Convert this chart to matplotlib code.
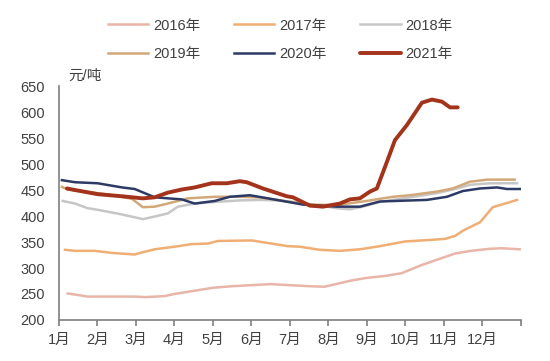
import matplotlib
matplotlib.use('Agg')
import matplotlib.pyplot as plt
import numpy as np

plt.rcParams['font.family'] = ['Liberation Sans', 'Noto Sans CJK SC', 'DejaVu Sans']
plt.rcParams['font.size'] = 10
plt.rcParams['axes.unicode_minus'] = False

# x positions in months from the start of Jan (0 = 1月, 12 = end of Dec)
x_2016 = [0.23, 0.5, 0.75, 1.0, 1.5, 2.0, 2.25, 2.5, 2.75, 3.0, 3.5, 4.0, 4.5, 5.0, 5.5, 6.0,
          6.5, 6.9, 7.25, 7.6, 8.0, 8.5, 8.9, 9.4, 9.9, 10.3, 10.7, 11.2, 11.5, 11.97]
y_2016 = [251, 248, 245, 245, 245, 245, 244, 245, 246, 250, 256, 262, 265, 267, 269, 267,
          265, 264, 270, 276, 281, 285, 290, 305, 318, 328, 333, 337, 338, 336]

x_2017 = [0.16, 0.42, 0.94, 1.38, 1.97, 2.16, 2.49, 3.01, 3.45, 3.87, 4.13, 5.01, 5.61, 5.95,
          6.26, 6.78, 7.3, 7.82, 8.34, 8.99, 9.64, 10.03, 10.3, 10.5, 10.94, 11.27, 11.64, 11.9]
y_2017 = [335, 333, 333, 329, 326, 330, 336, 341, 346, 347, 352, 353, 346, 342,
          341, 335, 333, 336, 342, 351, 354, 356, 362, 372, 388, 417, 425, 431]

x_2018 = [0.1, 0.42, 0.75, 1.01, 1.64, 2.18, 2.49, 2.83, 3.09, 3.53, 4.05, 4.7, 5.22, 5.74,
          6.26, 6.78, 7.22, 7.56, 7.9, 8.34, 8.86, 9.82, 10.29, 10.68, 11.2, 11.9]
y_2018 = [429, 424, 415, 412, 403, 394, 399, 405, 418, 424, 427, 430, 431, 430,
          426, 420, 415, 413, 418, 427, 433, 444, 452, 460, 463, 463]

x_2019 = [0.08, 0.23, 0.8, 1.32, 1.9, 2.18, 2.49, 2.83, 3.35, 4.05, 4.7, 5.22, 5.92, 6.52,
          7.22, 7.9, 8.68, 9.12, 9.82, 10.23, 10.68, 11.12, 11.84]
y_2019 = [456, 451, 446, 441, 433, 417, 418, 424, 434, 437, 437, 436, 428, 422,
          421, 428, 437, 440, 447, 453, 466, 470, 470]

x_2020 = [0.08, 0.42, 1.01, 1.64, 1.97, 2.23, 2.49, 3.19, 3.53, 4.05, 4.44, 4.96, 5.66, 6.34,
          7.22, 7.82, 8.34, 9.56, 10.08, 10.49, 10.94, 11.38, 11.64, 12.0]
y_2020 = [469, 465, 463, 455, 452, 444, 436, 432, 424, 429, 437, 440, 431, 422,
          418, 418, 428, 431, 437, 448, 453, 455, 452, 452]

x_2021 = [0.21, 0.42, 1.01, 1.64, 2.18, 2.49, 2.83, 3.19, 3.53, 3.97, 4.36, 4.7, 4.88, 5.3,
          5.92, 6.08, 6.52, 6.86, 7.3, 7.56, 7.82, 8.08, 8.26, 8.52, 8.73, 9.04, 9.43, 9.69,
          9.95, 10.16, 10.36]
y_2021 = [453, 450, 442, 438, 434, 436, 445, 451, 455, 463, 463, 467, 465, 453,
          438, 436, 420, 418, 424, 432, 434, 447, 453, 504, 546, 575, 618, 624,
          620, 609, 609]

months = ['1月', '2月', '3月', '4月', '5月', '6月', '7月', '8月', '9月', '10月', '11月', '12月']

fig = plt.figure(figsize=(5.5, 3.61), dpi=100)
ax = fig.add_axes([0.107, 0.1136, 0.84, 0.648])

l16, = ax.plot(x_2016, y_2016, color='#E8B5A8', lw=1.8, label='2016年')
l17, = ax.plot(x_2017, y_2017, color='#EFAE73', lw=1.8, label='2017年')
l18, = ax.plot(x_2018, y_2018, color='#C6C6C6', lw=1.8, label='2018年')
l19, = ax.plot(x_2019, y_2019, color='#D2A878', lw=1.8, label='2019年')
l20, = ax.plot(x_2020, y_2020, color='#2D3A66', lw=1.8, label='2020年')
l21, = ax.plot(x_2021, y_2021, color='#A3331B', lw=2.8, label='2021年',
               solid_capstyle='round', solid_joinstyle='round')

ax.set_xlim(0, 12)
ax.set_ylim(200, 650)
ax.set_yticks(np.arange(200, 651, 50))
ax.set_xticks(np.arange(0, 13))
ax.set_xticklabels(months + [''])

for s in ['top', 'right']:
    ax.spines[s].set_visible(False)
for s in ['left', 'bottom']:
    ax.spines[s].set_color('#7F7F7F')
    ax.spines[s].set_linewidth(1.2)

ax.tick_params(axis='y', length=0, pad=10, labelsize=10.5, labelcolor='#404040')
ax.tick_params(axis='x', length=4, width=1.2, color='#7F7F7F', pad=5,
               labelsize=10.5, labelcolor='#404040')

fig.text(0.125, 0.771, '元/吨', fontsize=10.5, color='#404040', ha='left', va='bottom')

# legend is filled column-wise, so order handles to read row-wise
hs = [l16, l19, l17, l20, l18, l21]
fig.legend(hs, [h.get_label() for h in hs], loc='upper center',
           bbox_to_anchor=(0.509, 0.985), ncol=3, frameon=False,
           fontsize=10.5, handlelength=2.8, handletextpad=0.3, columnspacing=2.3,
           labelspacing=1.0, labelcolor='#404040')

fig.savefig('out.png', dpi=100)
